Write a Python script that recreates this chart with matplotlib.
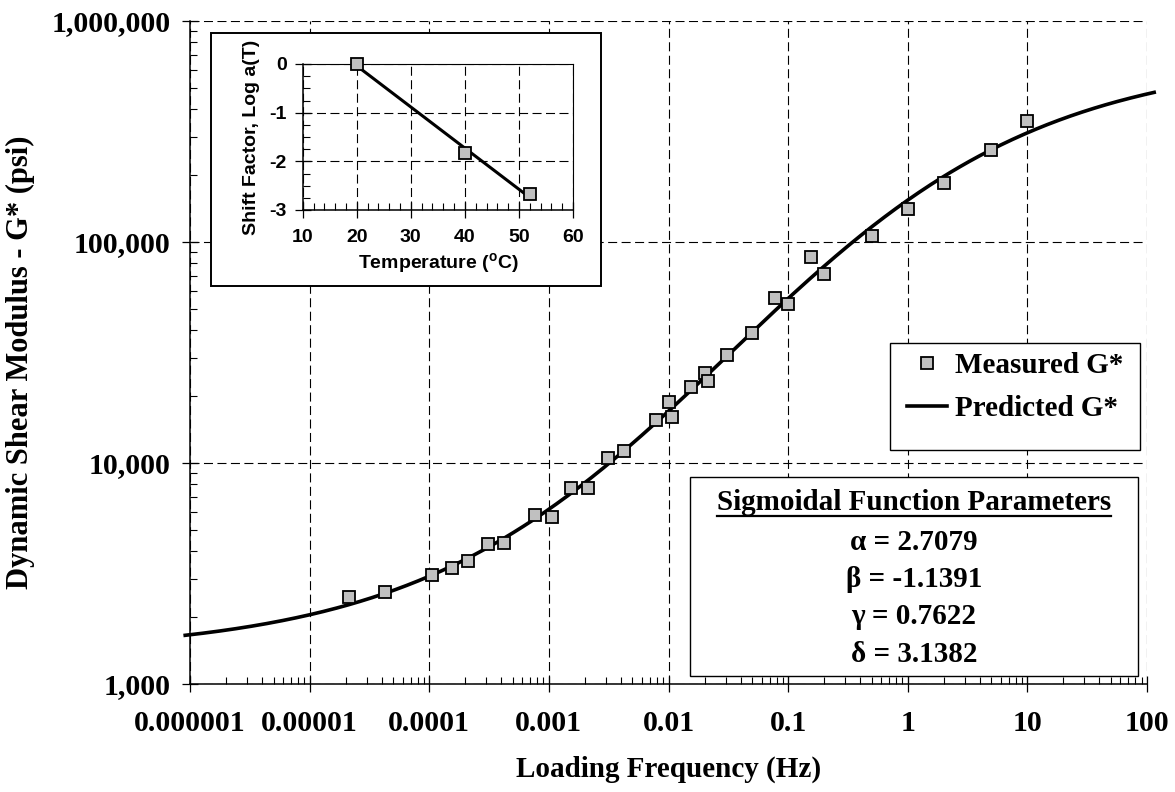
import numpy as np
import matplotlib
matplotlib.use("Agg")
import matplotlib.pyplot as plt
from matplotlib.patches import Rectangle
from matplotlib.lines import Line2D
from matplotlib.ticker import FixedLocator, LogLocator, NullFormatter, MultipleLocator, FixedFormatter

# ---------------------------------------------------------------- data
# Measured |G*| master curve, shifted to the 20 C reference temperature
freq_hz = [2.13e-5, 4.25e-5, 1.05e-4, 1.54e-4, 2.12e-4, 3.10e-4, 4.25e-4,
           7.70e-4, 1.06e-3, 1.54e-3, 2.11e-3, 3.11e-3, 4.24e-3, 7.79e-3,
           1.01e-2, 1.06e-2, 1.55e-2, 2.01e-2, 2.12e-2, 3.07e-2, 5.00e-2,
           7.73e-2, 0.10, 0.154, 0.20, 0.50, 1.0, 2.0, 5.0, 10.0]
g_star_psi = [2466, 2612, 3104, 3335, 3606, 4292, 4336,
              5820, 5705, 7746, 7746, 10500, 11330, 15630,
              18920, 16070, 22140, 25600, 23380, 30970, 38560,
              55800, 52600, 85500, 71900, 106400, 141000, 185800, 261000, 352000]

# Sigmoidal fit parameters
alpha, beta, gamma, delta = 2.7079, -1.1391, 0.7622, 3.1382

# Time-temperature shift factors
temps_c = [20, 40, 52]
log_shift = [0.0, -1.83, -2.68]

x_ticks = [1e-6, 1e-5, 1e-4, 1e-3, 1e-2, 1e-1, 1, 10, 100]
x_tick_labels = ["0.000001", "0.00001", "0.0001", "0.001", "0.01", "0.1", "1", "10", "100"]
y_ticks = [1e3, 1e4, 1e5, 1e6]
y_tick_labels = ["1,000", "10,000", "100,000", "1,000,000"]

# ---------------------------------------------------------------- style
W, H = 1175, 792
plt.rcParams["lines.scale_dashes"] = False
plt.rcParams["axes.unicode_minus"] = False
plt.rcParams["mathtext.fontset"] = "custom"
plt.rcParams["mathtext.bf"] = "Liberation Sans:bold"
plt.rcParams["mathtext.rm"] = "Liberation Sans:bold"

SERIF = "Liberation Serif"
SANS = "Liberation Sans"
GRID = dict(color="black", linestyle=(0, (6.5, 3.2)), linewidth=0.8)
MARKER = dict(marker="s", markersize=9.3, markerfacecolor="#c0c0c0",
              markeredgecolor="black", markeredgewidth=1.3, linestyle="none")


def fx(px):
    return px / W


def fy(py):
    return 1 - py / H


fig = plt.figure(figsize=(W / 100, H / 100), dpi=100)

# ---------------------------------------------------------------- main axes
ax = fig.add_axes([fx(190), fy(684), fx(1147) - fx(190), fy(21) - fy(684)])
ax.set_xscale("log")
ax.set_yscale("log")
ax.set_xlim(x_ticks[0], x_ticks[-1])
ax.set_ylim(y_ticks[0], y_ticks[-1])

f_curve = np.logspace(np.log10(x_ticks[0]) - 0.04, np.log10(x_ticks[-1]) + 0.06, 500)
log_g = delta + alpha / (1 + np.exp(beta - gamma * np.log10(f_curve)))
ax.plot(f_curve, 10 ** log_g, color="black", linewidth=2.6, clip_on=False,
        label="Predicted G*", zorder=3)
ax.plot(freq_hz, g_star_psi, label="Measured G*", zorder=4, **MARKER)

ax.xaxis.set_major_locator(FixedLocator(x_ticks))
ax.xaxis.set_major_formatter(FixedFormatter(x_tick_labels))
ax.yaxis.set_major_locator(FixedLocator(y_ticks))
ax.yaxis.set_major_formatter(FixedFormatter(y_tick_labels))
for axis in (ax.xaxis, ax.yaxis):
    axis.set_minor_locator(LogLocator(base=10, subs=np.arange(2, 10), numticks=20))
    axis.set_minor_formatter(NullFormatter())

ax.tick_params(which="major", direction="inout", length=12, width=0.9)
ax.tick_params(which="minor", direction="in", length=5, width=0.8)
ax.tick_params(axis="x", which="major", pad=13)
ax.tick_params(axis="y", which="major", pad=8)
for lab in ax.get_xticklabels() + ax.get_yticklabels():
    lab.set_fontfamily(SERIF)
    lab.set_fontweight("bold")
    lab.set_fontsize(21.5)

ax.grid(True, which="major", **GRID)
ax.set_axisbelow(True)
for side in ("top", "right"):
    ax.spines[side].set_visible(False)
for side in ("left", "bottom"):
    ax.spines[side].set_linewidth(1.1)

ax.set_xlabel("Loading Frequency (Hz)", fontfamily=SERIF, fontweight="bold",
              fontsize=21, labelpad=13)
ax.set_ylabel("Dynamic Shear Modulus - G* (psi)", fontfamily=SERIF,
              fontweight="bold", fontsize=22, labelpad=12)
ax.yaxis.label.set_y(0.486)

# ---------------------------------------------------------------- legend
legend_box = Rectangle((fx(890), fy(450)), fx(1140) - fx(890), fy(342.7) - fy(450),
                       transform=fig.transFigure, facecolor="white",
                       edgecolor="black", linewidth=1.0, zorder=5)
fig.add_artist(legend_box)
handles, labels = ax.get_legend_handles_labels()
order = [labels.index("Measured G*"), labels.index("Predicted G*")]
leg = fig.legend([handles[i] for i in order], [labels[i] for i in order],
                 loc="upper left", bbox_to_anchor=(fx(907), fy(352)),
                 frameon=False, borderpad=0, borderaxespad=0,
                 handlelength=1.38, handletextpad=0.27, labelspacing=0.55,
                 prop=dict(family=SERIF, weight="bold", size=21))
leg.set_zorder(6)

# ---------------------------------------------------------------- parameter box
param_box = Rectangle((fx(690), fy(676)), fx(1138) - fx(690), fy(476.7) - fy(676),
                      transform=fig.transFigure, facecolor="white",
                      edgecolor="black", linewidth=1.0, zorder=5)
fig.add_artist(param_box)
cx = fx(914)
title = fig.text(cx, fy(510), "Sigmoidal Function Parameters", ha="center",
                 va="baseline", fontfamily=SERIF, fontweight="bold", fontsize=21,
                 zorder=6)
param_lines = [f"\u03b1 = {alpha:.4f}", f"\u03b2 = {beta:.4f}",
               f"\u03b3 = {gamma:.4f}", f"\u03b4 = {delta:.4f}"]
for i, line in enumerate(param_lines):
    fig.text(cx, fy(550 + 37.2 * i), line, ha="center", va="baseline",
             fontfamily=SERIF, fontweight="bold", fontsize=21, zorder=6)

# ---------------------------------------------------------------- inset: shift factors
inset_box = Rectangle((fx(211), fy(286)), fx(601) - fx(211), fy(33) - fy(286),
                      transform=fig.transFigure, facecolor="white",
                      edgecolor="black", linewidth=1.4, zorder=5)
fig.add_artist(inset_box)

ins = fig.add_axes([fx(302.7), fy(210), fx(573) - fx(302.7), fy(64) - fy(210)])
ins.set_zorder(7)
ins.set_xlim(10, 60)
ins.set_ylim(-3, 0)
slope, intercept = np.polyfit(temps_c, log_shift, 1)
t_fit = np.array([temps_c[0], temps_c[-1]], dtype=float)
ins.plot(t_fit, slope * t_fit + intercept, color="black", linewidth=2.2, zorder=3)
ins.plot(temps_c, log_shift, zorder=4, clip_on=False, **MARKER)
ins.xaxis.set_major_locator(MultipleLocator(10))
ins.xaxis.set_minor_locator(MultipleLocator(2))
ins.yaxis.set_major_locator(MultipleLocator(1))
ins.yaxis.set_minor_locator(MultipleLocator(0.25))
ins.tick_params(which="major", direction="inout", length=11, width=0.9)
ins.tick_params(which="minor", direction="in", length=5, width=0.8)
ins.tick_params(axis="x", which="major", pad=8)
ins.tick_params(axis="y", which="major", pad=6)
for lab in ins.get_xticklabels() + ins.get_yticklabels():
    lab.set_fontfamily(SANS)
    lab.set_fontweight("bold")
    lab.set_fontsize(14)
ins.grid(True, which="major", **GRID)
ins.set_axisbelow(True)
for side in ("left", "bottom"):
    ins.spines[side].set_linewidth(1.1)
for side in ("top", "right"):
    ins.spines[side].set_linewidth(0.8)
ins.set_xlabel(r"Temperature ($^{\mathbf{o}}$C)", fontfamily=SANS,
               fontweight="bold", fontsize=14, labelpad=4)
ins.set_ylabel("Shift Factor, Log a(T)", fontfamily=SANS, fontweight="bold",
               fontsize=14, labelpad=7)

# underline under the parameter box title
fig.canvas.draw()
bb = title.get_window_extent(fig.canvas.get_renderer())
x0, x1 = bb.x0 / W, bb.x1 / W
fig.add_artist(Line2D([x0, x1], [fy(516), fy(516)], transform=fig.transFigure,
                      color="black", linewidth=1.6, zorder=6))

fig.savefig("out.png", dpi=100)
